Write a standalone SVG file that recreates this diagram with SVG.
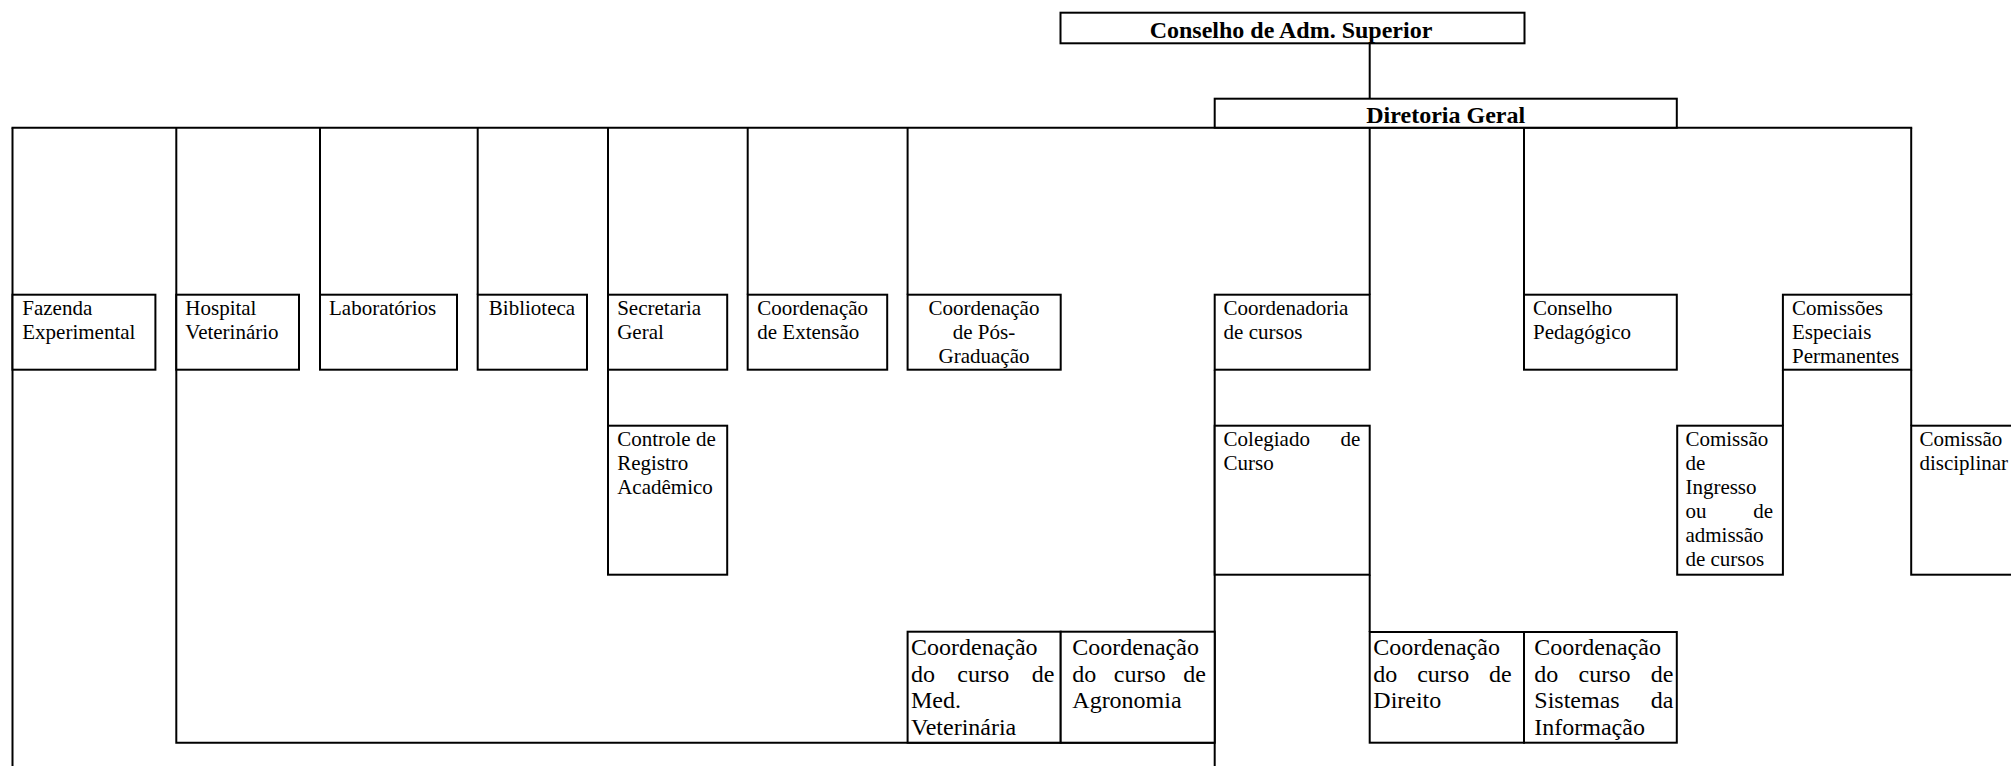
<svg xmlns="http://www.w3.org/2000/svg" width="2011" height="766" viewBox="0 0 2011 766">
<style>
.bx{fill:#fff;stroke:#000;stroke-width:2}
.ln{fill:none;stroke:#000;stroke-width:2}
.t{font-family:"Liberation Serif","Times New Roman",serif;font-size:21px;fill:#000}
.tb{font-family:"Liberation Serif","Times New Roman",serif;font-size:24px;fill:#000}
.h{font-family:"Liberation Serif","Times New Roman",serif;font-size:24px;font-weight:bold;fill:#000;text-anchor:middle}
.e{text-anchor:end}
.m{text-anchor:middle}
</style>
<rect x="0" y="0" width="2011" height="766" fill="#fff"/>
<g id="connectors">
<line class="ln" x1="1369.7" y1="43.3" x2="1369.7" y2="98.7"/>
<line class="ln" x1="1369.7" y1="127.7" x2="1369.7" y2="294.7"/>
<line class="ln" x1="11.5" y1="127.7" x2="1912.2" y2="127.7"/>
<line class="ln" x1="12.5" y1="127.7" x2="12.5" y2="770"/>
<polyline class="ln" points="176.3,127.7 176.3,742.7 1214.7,742.7"/>
<line class="ln" x1="320" y1="127.7" x2="320" y2="294.7"/>
<line class="ln" x1="477.7" y1="127.7" x2="477.7" y2="294.7"/>
<line class="ln" x1="608" y1="127.7" x2="608" y2="294.7"/>
<line class="ln" x1="608" y1="369.7" x2="608" y2="425.7"/>
<line class="ln" x1="747.7" y1="127.7" x2="747.7" y2="294.7"/>
<line class="ln" x1="907.6" y1="127.7" x2="907.6" y2="294.7"/>
<line class="ln" x1="1524" y1="127.7" x2="1524" y2="294.7"/>
<line class="ln" x1="1911.2" y1="127.7" x2="1911.2" y2="294.7"/>
<line class="ln" x1="1911.2" y1="369.7" x2="1911.2" y2="425.7"/>
<line class="ln" x1="1782.9" y1="369.7" x2="1782.9" y2="425.7"/>
<line class="ln" x1="1214.7" y1="369.7" x2="1214.7" y2="770"/>
<line class="ln" x1="1369.7" y1="574.7" x2="1369.7" y2="632"/>
</g>
<g id="conselho-adm">
<rect class="bx" x="1060.5" y="12.7" width="464" height="30.6"/>
<text class="h" x="1291" y="37.5">Conselho de Adm. Superior</text>
</g>
<g id="diretoria-geral">
<rect class="bx" x="1214.7" y="98.7" width="462.1" height="29"/>
<text class="h" x="1445.7" y="122.5">Diretoria Geral</text>
</g>
<g id="fazenda">
<rect class="bx" x="12.5" y="294.7" width="142.9" height="75"/>
<text class="t" x="22.3" y="315">Fazenda</text>
<text class="t" x="22.3" y="339">Experimental</text>
</g>
<g id="hospital">
<rect class="bx" x="176.3" y="294.7" width="122.7" height="75"/>
<text class="t" x="185.3" y="315">Hospital</text>
<text class="t" x="185.3" y="339">Veterinário</text>
</g>
<g id="laboratorios">
<rect class="bx" x="320" y="294.7" width="137" height="75"/>
<text class="t" x="329" y="315">Laboratórios</text>
</g>
<g id="biblioteca">
<rect class="bx" x="477.7" y="294.7" width="109.3" height="75"/>
<text class="t" x="488.8" y="315">Biblioteca</text>
</g>
<g id="secretaria">
<rect class="bx" x="608" y="294.7" width="119.2" height="75"/>
<text class="t" x="617.2" y="315">Secretaria</text>
<text class="t" x="617.2" y="339">Geral</text>
</g>
<g id="controle">
<rect class="bx" x="608" y="425.7" width="119.2" height="149"/>
<text class="t" x="617.2" y="446">Controle de</text>
<text class="t" x="617.2" y="470">Registro</text>
<text class="t" x="617.2" y="494">Acadêmico</text>
</g>
<g id="extensao">
<rect class="bx" x="747.7" y="294.7" width="139.5" height="75"/>
<text class="t" x="757.3" y="315">Coordenação</text>
<text class="t" x="757.3" y="339">de Extensão</text>
</g>
<g id="pos-graduacao">
<rect class="bx" x="907.6" y="294.7" width="153.1" height="75"/>
<text class="t m" x="984" y="315">Coordenação</text>
<text class="t m" x="984" y="339">de Pós-</text>
<text class="t m" x="984" y="363">Graduação</text>
</g>
<g id="coordenadoria">
<rect class="bx" x="1214.7" y="294.7" width="155" height="75"/>
<text class="t" x="1223.6" y="315">Coordenadoria</text>
<text class="t" x="1223.6" y="339">de cursos</text>
</g>
<g id="colegiado">
<rect class="bx" x="1214.7" y="425.7" width="155" height="149"/>
<text class="t" x="1223.6" y="446">Colegiado</text>
<text class="t e" x="1360.3" y="446">de</text>
<text class="t" x="1223.6" y="470">Curso</text>
</g>
<g id="conselho-pedagogico">
<rect class="bx" x="1524" y="294.7" width="152.8" height="75"/>
<text class="t" x="1533" y="315">Conselho</text>
<text class="t" x="1533" y="339">Pedagógico</text>
</g>
<g id="comissoes-especiais">
<rect class="bx" x="1782.9" y="294.7" width="128.3" height="75"/>
<text class="t" x="1792" y="315">Comissões</text>
<text class="t" x="1792" y="339">Especiais</text>
<text class="t" x="1792" y="363">Permanentes</text>
</g>
<g id="comissao-ingresso">
<rect class="bx" x="1677.2" y="425.7" width="105.7" height="149"/>
<text class="t" x="1685.4" y="446">Comissão</text>
<text class="t" x="1685.4" y="470">de</text>
<text class="t" x="1685.4" y="494">Ingresso</text>
<text class="t" x="1685.4" y="518">ou</text>
<text class="t e" x="1773" y="518">de</text>
<text class="t" x="1685.4" y="542">admissão</text>
<text class="t" x="1685.4" y="566">de cursos</text>
</g>
<g id="comissao-disciplinar">
<rect class="bx" x="1911.2" y="425.7" width="200" height="149"/>
<text class="t" x="1919.4" y="446">Comissão</text>
<text class="t" x="1919.4" y="470">disciplinar</text>
</g>
<g id="coord-med-vet">
<rect class="bx" x="907.6" y="631.7" width="153.1" height="111"/>
<text class="tb" x="911" y="655">Coordenação</text>
<text class="tb" y="681.7"><tspan x="911">do</tspan><tspan x="957.3">curso</tspan></text>
<text class="tb e" x="1054.3" y="681.7">de</text>
<text class="tb" x="911" y="708.3">Med.</text>
<text class="tb" x="911" y="735">Veterinária</text>
</g>
<g id="coord-agronomia">
<rect class="bx" x="1060.7" y="631.7" width="154" height="111"/>
<text class="tb" x="1072.3" y="655">Coordenação</text>
<text class="tb" y="681.7"><tspan x="1072.3">do</tspan><tspan x="1113.8">curso</tspan></text>
<text class="tb e" x="1206" y="681.7">de</text>
<text class="tb" x="1072.3" y="708.3">Agronomia</text>
</g>
<g id="coord-direito">
<rect class="bx" x="1369.7" y="632" width="154.3" height="110.7"/>
<text class="tb" x="1373.3" y="655">Coordenação</text>
<text class="tb" y="681.7"><tspan x="1373.3">do</tspan><tspan x="1417.2">curso</tspan></text>
<text class="tb e" x="1511.7" y="681.7">de</text>
<text class="tb" x="1373.3" y="708.3">Direito</text>
</g>
<g id="coord-sistemas">
<rect class="bx" x="1524" y="632" width="152.8" height="110.7"/>
<text class="tb" x="1534.3" y="655">Coordenação</text>
<text class="tb" y="681.7"><tspan x="1534.3">do</tspan><tspan x="1578.5">curso</tspan></text>
<text class="tb e" x="1673.3" y="681.7">de</text>
<text class="tb" x="1534.3" y="708.3">Sistemas</text>
<text class="tb e" x="1673.3" y="708.3">da</text>
<text class="tb" x="1534.3" y="735">Informação</text>
</g>
</svg>
